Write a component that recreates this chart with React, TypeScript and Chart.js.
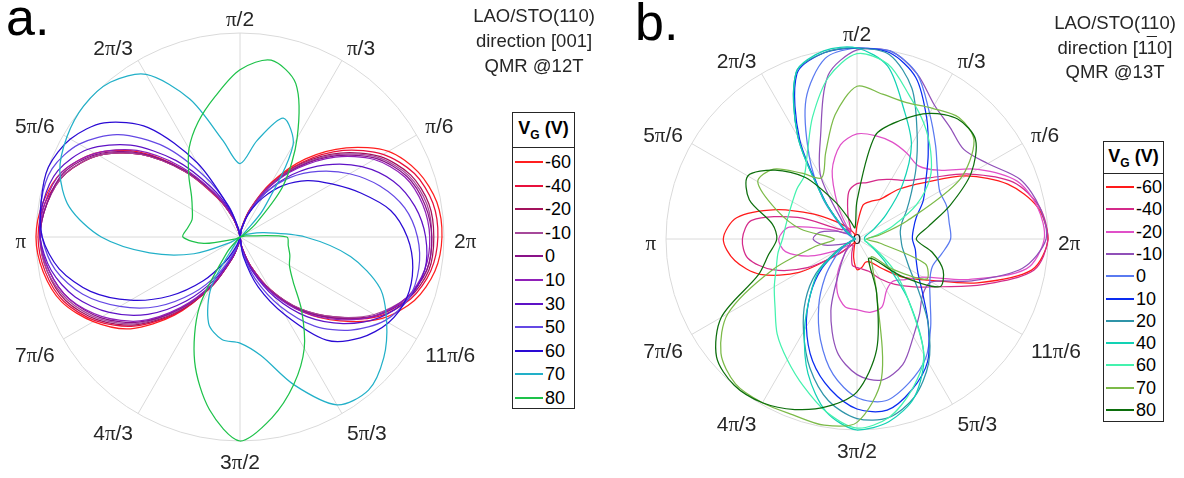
import React, { useEffect, useRef } from 'react';
import { Chart, registerables } from 'chart.js';

Chart.register(...registerables);

// ---------- angular categories (degrees, counter-clockwise from the right) ----------
const thetaDeg = [0, 10, 20, 30, 40, 50, 60, 70, 80, 90, 100, 110, 120, 130, 140, 150, 160, 170, 180, 190, 200, 210, 220, 230, 240, 250, 260, 270, 280, 290, 300, 310, 320, 330, 340, 350];
const angleTickDeg = [0, 30, 60, 90, 120, 150, 180, 210, 240, 270, 300, 330];
const angleTickLabels = ['2π', 'π/6', 'π/3', 'π/2', '2π/3', '5π/6', 'π', '7π/6', '4π/3', '3π/2', '5π/3', '11π/6'];

// ---------- panel a : LAO/STO(110), direction [001], QMR @12T ----------
const gateA = ['-60', '-40', '-20', '-10', '0', '10', '30', '50', '60', '70', '80'];
const colorA = ['#ff1f1f', '#e8103c', '#a3125c', '#a6489a', '#8a1288', '#9020b8', '#5e12c6', '#6448e4', '#2a0ad4', '#22b0c8', '#1ec24a'];
const aVm60 = [0.99, 0.98, 0.93, 0.84, 0.68, 0.50, 0.31, 0.15, 0.05, 0.00, 0.02, 0.10, 0.23, 0.43, 0.65, 0.82, 0.93, 0.98, 1.00, 0.98, 0.93, 0.83, 0.70, 0.50, 0.28, 0.11, 0.03, 0.00, 0.05, 0.15, 0.30, 0.48, 0.64, 0.80, 0.91, 0.97];
const aVm40 = [0.97, 0.96, 0.91, 0.81, 0.66, 0.48, 0.30, 0.14, 0.04, 0.00, 0.02, 0.10, 0.22, 0.42, 0.63, 0.80, 0.91, 0.97, 0.99, 0.97, 0.92, 0.82, 0.68, 0.49, 0.28, 0.11, 0.03, 0.00, 0.05, 0.15, 0.30, 0.47, 0.62, 0.78, 0.89, 0.95];
const aVm20 = [0.95, 0.94, 0.89, 0.79, 0.64, 0.47, 0.29, 0.14, 0.04, 0.00, 0.02, 0.10, 0.23, 0.42, 0.63, 0.80, 0.91, 0.96, 0.98, 0.96, 0.91, 0.81, 0.67, 0.48, 0.28, 0.11, 0.03, 0.00, 0.05, 0.15, 0.30, 0.46, 0.61, 0.77, 0.88, 0.94];
const aVm10 = [0.94, 0.93, 0.88, 0.78, 0.63, 0.46, 0.29, 0.14, 0.04, 0.00, 0.02, 0.10, 0.23, 0.42, 0.63, 0.80, 0.91, 0.96, 0.98, 0.96, 0.90, 0.80, 0.66, 0.47, 0.27, 0.11, 0.03, 0.00, 0.05, 0.15, 0.30, 0.46, 0.61, 0.76, 0.87, 0.93];
const aV0 = [0.94, 0.92, 0.87, 0.77, 0.62, 0.45, 0.28, 0.13, 0.04, 0.00, 0.02, 0.11, 0.24, 0.43, 0.64, 0.81, 0.92, 0.96, 0.98, 0.95, 0.89, 0.79, 0.65, 0.46, 0.27, 0.11, 0.03, 0.00, 0.05, 0.16, 0.31, 0.47, 0.62, 0.77, 0.87, 0.93];
const aV10 = [0.93, 0.91, 0.86, 0.76, 0.61, 0.44, 0.28, 0.13, 0.04, 0.00, 0.02, 0.11, 0.25, 0.45, 0.66, 0.82, 0.93, 0.97, 0.98, 0.95, 0.89, 0.78, 0.64, 0.45, 0.26, 0.10, 0.03, 0.00, 0.06, 0.17, 0.32, 0.48, 0.63, 0.77, 0.87, 0.92];
const aV30 = [0.91, 0.87, 0.80, 0.69, 0.55, 0.40, 0.25, 0.12, 0.03, 0.00, 0.03, 0.13, 0.28, 0.49, 0.70, 0.86, 0.95, 0.98, 0.98, 0.94, 0.86, 0.74, 0.59, 0.41, 0.23, 0.09, 0.02, 0.00, 0.06, 0.18, 0.34, 0.51, 0.66, 0.79, 0.88, 0.92];
const aV50 = [0.87, 0.82, 0.73, 0.62, 0.50, 0.38, 0.25, 0.12, 0.04, 0.00, 0.04, 0.16, 0.34, 0.58, 0.78, 0.91, 0.98, 0.99, 0.97, 0.92, 0.82, 0.68, 0.53, 0.36, 0.20, 0.07, 0.01, 0.00, 0.08, 0.22, 0.39, 0.57, 0.71, 0.82, 0.88, 0.89];
const aV60 = [0.82, 0.75, 0.63, 0.52, 0.43, 0.33, 0.22, 0.12, 0.04, 0.00, 0.04, 0.15, 0.42, 0.70, 0.87, 0.96, 1.00, 0.99, 0.97, 0.90, 0.78, 0.62, 0.45, 0.28, 0.13, 0.04, 0.00, 0.00, 0.10, 0.26, 0.44, 0.66, 0.77, 0.84, 0.87, 0.86];
const aV70 = [0.32, 0.12, 0.04, 0.01, 0.02, 0.18, 0.52, 0.62, 0.48, 0.36, 0.48, 0.72, 0.92, 0.99, 1.00, 0.98, 0.94, 0.85, 0.68, 0.45, 0.24, 0.05, 0.00, 0.02, 0.28, 0.45, 0.51, 0.52, 0.59, 0.77, 0.95, 0.98, 0.92, 0.83, 0.73, 0.55];
const aV80 = [0.23, 0.03, 0.00, 0.02, 0.10, 0.33, 0.56, 0.80, 0.88, 0.82, 0.70, 0.60, 0.50, 0.39, 0.31, 0.27, 0.25, 0.26, 0.28, 0.18, 0.03, 0.00, 0.00, 0.10, 0.40, 0.65, 0.86, 1.00, 0.90, 0.77, 0.63, 0.47, 0.34, 0.28, 0.26, 0.24];
const seriesA = [aVm60, aVm40, aVm20, aVm10, aV0, aV10, aV30, aV50, aV60, aV70, aV80];

// ---------- panel b : LAO/STO(110), direction [1-10], QMR @13T ----------
const gateB = ['-60', '-40', '-20', '-10', '0', '10', '20', '40', '60', '70', '80'];
const colorB = ['#ff1a1a', '#d42a8a', '#e050c8', '#9050b8', '#5a7af0', '#0a2cf0', '#2f94a8', '#12d2b4', '#44f2ae', '#7cba48', '#0c6e0c'];
const bVm60 = [1.00, 0.96, 0.84, 0.66, 0.46, 0.34, 0.24, 0.21, 0.18, 0.07, 0.03, 0.02, 0.04, 0.08, 0.14, 0.26, 0.45, 0.64, 0.70, 0.65, 0.54, 0.35, 0.11, 0.03, 0.02, 0.04, 0.10, 0.16, 0.15, 0.13, 0.14, 0.20, 0.31, 0.43, 0.67, 0.93];
const bVm40 = [1.00, 0.97, 0.87, 0.68, 0.50, 0.40, 0.36, 0.33, 0.30, 0.29, 0.25, 0.14, 0.07, 0.05, 0.08, 0.10, 0.33, 0.56, 0.60, 0.58, 0.47, 0.30, 0.12, 0.04, 0.04, 0.08, 0.14, 0.15, 0.16, 0.18, 0.24, 0.31, 0.39, 0.50, 0.70, 0.94];
const bVm20 = [0.98, 0.96, 0.89, 0.73, 0.56, 0.50, 0.52, 0.54, 0.55, 0.55, 0.50, 0.38, 0.20, 0.08, 0.04, 0.05, 0.14, 0.36, 0.41, 0.38, 0.26, 0.12, 0.05, 0.10, 0.20, 0.30, 0.36, 0.37, 0.39, 0.38, 0.31, 0.29, 0.33, 0.40, 0.62, 0.90];
const bVm10 = [0.99, 0.97, 0.91, 0.79, 0.73, 0.76, 0.81, 0.92, 1.00, 0.99, 0.87, 0.56, 0.38, 0.12, 0.05, 0.06, 0.12, 0.20, 0.23, 0.18, 0.08, 0.04, 0.06, 0.10, 0.18, 0.40, 0.60, 0.71, 0.75, 0.70, 0.59, 0.51, 0.45, 0.45, 0.64, 0.88];
const bV0 = [0.49, 0.49, 0.50, 0.50, 0.55, 0.64, 0.76, 0.92, 1.00, 1.00, 0.96, 0.78, 0.50, 0.28, 0.12, 0.06, 0.03, 0.02, 0.02, 0.02, 0.04, 0.08, 0.15, 0.26, 0.40, 0.56, 0.72, 0.83, 0.86, 0.80, 0.72, 0.60, 0.50, 0.44, 0.42, 0.45];
const bV10 = [0.29, 0.30, 0.33, 0.40, 0.47, 0.58, 0.73, 0.90, 0.99, 1.00, 0.99, 0.92, 0.60, 0.26, 0.10, 0.04, 0.02, 0.01, 0.01, 0.01, 0.03, 0.10, 0.24, 0.38, 0.53, 0.68, 0.80, 0.89, 0.91, 0.84, 0.74, 0.58, 0.45, 0.37, 0.33, 0.31];
const bV20 = [0.23, 0.23, 0.25, 0.30, 0.37, 0.48, 0.63, 0.84, 0.98, 1.00, 0.99, 0.93, 0.62, 0.27, 0.10, 0.04, 0.02, 0.01, 0.01, 0.01, 0.03, 0.12, 0.28, 0.42, 0.56, 0.72, 0.86, 0.94, 0.95, 0.88, 0.75, 0.58, 0.42, 0.32, 0.27, 0.24];
const bV40 = [0.04, 0.04, 0.05, 0.10, 0.20, 0.37, 0.57, 0.72, 0.92, 1.00, 1.00, 0.93, 0.62, 0.27, 0.10, 0.04, 0.02, 0.01, 0.01, 0.01, 0.03, 0.10, 0.26, 0.38, 0.55, 0.75, 0.92, 1.00, 0.97, 0.88, 0.70, 0.42, 0.20, 0.10, 0.06, 0.04];
const bV60 = [0.05, 0.10, 0.20, 0.36, 0.50, 0.60, 0.70, 0.80, 0.93, 0.97, 0.86, 0.68, 0.52, 0.43, 0.41, 0.39, 0.38, 0.38, 0.39, 0.42, 0.45, 0.50, 0.56, 0.65, 0.73, 0.82, 0.92, 0.99, 0.95, 0.84, 0.70, 0.42, 0.25, 0.12, 0.06, 0.04];
const bV70 = [0.05, 0.12, 0.28, 0.62, 0.80, 0.83, 0.79, 0.76, 0.77, 0.80, 0.66, 0.48, 0.37, 0.45, 0.57, 0.60, 0.45, 0.30, 0.12, 0.22, 0.47, 0.78, 0.93, 0.99, 0.99, 0.98, 0.99, 0.96, 0.74, 0.30, 0.16, 0.12, 0.25, 0.42, 0.38, 0.12];
const bV80 = [0.31, 0.38, 0.52, 0.69, 0.81, 0.82, 0.76, 0.66, 0.55, 0.20, 0.06, 0.10, 0.22, 0.42, 0.56, 0.66, 0.60, 0.45, 0.42, 0.47, 0.55, 0.82, 0.96, 1.00, 0.99, 0.95, 0.89, 0.80, 0.59, 0.30, 0.12, 0.14, 0.30, 0.50, 0.48, 0.40];
const seriesB = [bVm60, bVm40, bVm20, bVm10, bV0, bV10, bV20, bV40, bV60, bV70, bV80];

// ---------- radar ordering: index 0 at top (π/2), clockwise ----------
const radarOrder = thetaDeg.map((_, i) => (450 - 10 * i) % 360);
const toRadar = (vals: number[]) => radarOrder.map((d) => vals[thetaDeg.indexOf(d)]);
const radarLabels = radarOrder.map((d) => {
  const k = angleTickDeg.indexOf(d);
  return k >= 0 ? angleTickLabels[k] : '';
});

const SANS = '"Liberation Sans", Arial, Helvetica, sans-serif';
const SERIF = '"Liberation Serif", "Times New Roman", serif';

function labelSegments(text: string, size: number) {
  const parts = text.split('π');
  const segs: [string, string][] = [];
  parts.forEach((p, i) => {
    if (p) segs.push([p, `${size}px ${SANS}`]);
    if (i < parts.length - 1) segs.push(['π', `${size}px ${SERIF}`]);
  });
  return segs;
}

const angleLabelPlugin = {
  id: 'angleLabels',
  beforeDatasetsDraw(chart: any, _args: any, o: any) {
    if (!o.centerZero) return;
    const s = chart.scales.r;
    const ctx = chart.ctx;
    ctx.save();
    ctx.fillStyle = '#222';
    ctx.font = `15px ${SANS}`;
    ctx.textAlign = 'center';
    ctx.textBaseline = 'middle';
    ctx.fillText('0', s.xCenter, s.yCenter + 1);
    ctx.restore();
  },
  afterDraw(chart: any, _args: any, o: any) {
    const s = chart.scales.r;
    const ctx = chart.ctx;
    ctx.save();
    ctx.fillStyle = o.color;
    ctx.textAlign = 'left';
    ctx.textBaseline = 'alphabetic';
    chart.data.labels.forEach((lab: string, i: number) => {
      if (!lab) return;
      const p = s.getPointPosition(i, s.drawingArea + o.gap);
      const ux = Math.cos(p.angle);
      const uy = Math.sin(p.angle);
      const segs = labelSegments(lab, o.size);
      let w = 0;
      segs.forEach(([t, f]) => {
        ctx.font = f;
        w += ctx.measureText(t).width;
      });
      const dx = Math.abs(ux) < 0.05 ? 0 : Math.sign(ux) * w / 2;
      const dy = Math.abs(uy) < 0.05 ? 0 : Math.sign(uy) * o.h / 2;
      const cxl = p.x + dx;
      const cyl = p.y + dy + o.shift;
      let x0 = cxl - w / 2;
      const base = cyl + o.h / 2;
      segs.forEach(([t, f]) => {
        ctx.font = f;
        ctx.fillText(t, x0, base);
        x0 += ctx.measureText(t).width;
      });
    });
    ctx.restore();
  },
};

type PanelProps = {
  left: number;
  width: number;
  height: number;
  pad: { left: number; right: number; top: number; bottom: number };
  series: number[][];
  colors: string[];
  names: string[];
  centerZero: boolean;
};

function PolarPanel({ left, width, height, pad, series, colors, names, centerZero }: PanelProps) {
  const ref = useRef<HTMLCanvasElement>(null);
  useEffect(() => {
    const canvas = ref.current;
    if (!canvas) return;
    const n = series.length;
    const chart = new Chart(canvas, {
      type: 'radar',
      data: {
        labels: radarLabels,
        datasets: series.map((s, i) => ({
          label: names[i],
          data: toRadar(s),
          borderColor: colors[i],
          backgroundColor: 'rgba(0,0,0,0)',
          borderWidth: 1.25,
          pointRadius: 0,
          pointHoverRadius: 0,
          fill: false,
          tension: 0.3,
          clip: false,
          order: n - i,
        })) as any,
      },
      options: {
        responsive: false,
        animation: false,
        events: [],
        layout: { padding: pad },
        elements: { line: { borderJoinStyle: 'round' } },
        plugins: {
          legend: { display: false },
          tooltip: { enabled: false },
          angleLabels: { gap: 10, h: 15, shift: 3, size: 21, color: '#262626', centerZero },
        } as any,
        scales: {
          r: {
            min: 0,
            max: 1,
            startAngle: 0,
            ticks: { display: false, stepSize: 1 },
            grid: { circular: true, color: '#dadada', lineWidth: 1 },
            angleLines: {
              display: true,
              lineWidth: 1,
              color: (c: any) => (c.index % 3 === 0 ? '#dadada' : 'rgba(0,0,0,0)'),
            },
            pointLabels: { display: false },
          } as any,
        },
      },
      plugins: [angleLabelPlugin as any],
    });
    return () => chart.destroy();
  }, []);
  return (
    <canvas
      ref={ref}
      width={width}
      height={height}
      style={{ position: 'absolute', left, top: 0, width, height }}
    />
  );
}

type LegendProps = {
  left: number;
  top: number;
  width: number;
  height: number;
  sepY: number;
  titleY: number;
  firstY: number;
  step: number;
  lineX0: number;
  lineX1: number;
  textX: number;
  names: string[];
  colors: string[];
};

function Legend(p: LegendProps) {
  return (
    <>
      <div
        style={{
          position: 'absolute',
          left: p.left,
          top: p.top,
          width: p.width,
          height: p.height,
          border: '1px solid #262626',
          boxSizing: 'border-box',
          background: '#fff',
        }}
      />
      <div style={{ position: 'absolute', left: p.left, top: p.sepY, width: p.width, height: 1, background: '#262626' }} />
      <div
        style={{
          position: 'absolute',
          left: p.left,
          top: p.titleY - 11,
          width: p.width,
          textAlign: 'center',
          fontWeight: 'bold',
          fontSize: 18,
          lineHeight: '22px',
          color: '#000',
          whiteSpace: 'nowrap',
        }}
      >
        V<span style={{ fontSize: 12, position: 'relative', top: 5, lineHeight: 0 }}>G</span> (V)
      </div>
      {p.names.map((nm, i) => {
        const y = p.firstY + p.step * i;
        return (
          <React.Fragment key={nm}>
            <div
              style={{
                position: 'absolute',
                left: p.lineX0,
                top: y - 1,
                width: p.lineX1 - p.lineX0,
                height: 2,
                background: p.colors[i],
              }}
            />
            <div
              style={{
                position: 'absolute',
                left: p.textX,
                top: y - 10,
                fontSize: 18,
                lineHeight: '20px',
                color: '#000',
                whiteSpace: 'nowrap',
              }}
            >
              {nm}
            </div>
          </React.Fragment>
        );
      })}
    </>
  );
}

const annotA = ['LAO/STO(110)', 'direction [001]', 'QMR @12T'];
const annotB1 = 'LAO/STO(110)';
const annotB3 = 'QMR @13T';

export default function App() {
  return (
    <div
      style={{
        position: 'fixed',
        left: 0,
        top: 0,
        width: 1184,
        height: 478,
        background: '#fff',
        overflow: 'hidden',
        fontFamily: SANS,
        color: '#262626',
      }}
    >
      <PolarPanel
        left={0}
        width={592}
        height={478}
        pad={{ left: 36, right: 148, top: 33, bottom: 37 }}
        series={seriesA}
        colors={colorA}
        names={gateA}
        centerZero={false}
      />
      <PolarPanel
        left={592}
        width={592}
        height={478}
        pad={{ left: 74, right: 136, top: 48, bottom: 48 }}
        series={seriesB}
        colors={colorB}
        names={gateB}
        centerZero={true}
      />
      <div style={{ position: 'absolute', left: 6, top: -9, fontSize: 52, lineHeight: '52px', color: '#000' }}>a.</div>
      <div style={{ position: 'absolute', left: 635, top: -4, fontSize: 52, lineHeight: '52px', color: '#000' }}>b.</div>
      <div
        style={{
          position: 'absolute',
          left: 464,
          top: 3,
          width: 140,
          textAlign: 'center',
          fontSize: 18.5,
          lineHeight: '25px',
          whiteSpace: 'nowrap',
        }}
      >
        {annotA.map((t) => (
          <div key={t}>{t}</div>
        ))}
      </div>
      <div
        style={{
          position: 'absolute',
          left: 1050,
          top: 11,
          width: 130,
          textAlign: 'center',
          fontSize: 18.5,
          lineHeight: '24.5px',
          whiteSpace: 'nowrap',
        }}
      >
        <div>{annotB1}</div>
        <div>
          direction [1<span style={{ textDecoration: 'overline' }}>1</span>0]
        </div>
        <div>{annotB3}</div>
      </div>
      <Legend
        left={512}
        top={112}
        width={63}
        height={297}
        sepY={147}
        titleY={128}
        firstY={162}
        step={23.6}
        lineX0={515}
        lineX1={543}
        textX={545}
        names={gateA}
        colors={colorA}
      />
      <Legend
        left={1103}
        top={141}
        width={61}
        height={281}
        sepY={173}
        titleY={156}
        firstY={187}
        step={22.3}
        lineX0={1106}
        lineX1={1134}
        textX={1136}
        names={gateB}
        colors={colorB}
      />
    </div>
  );
}
